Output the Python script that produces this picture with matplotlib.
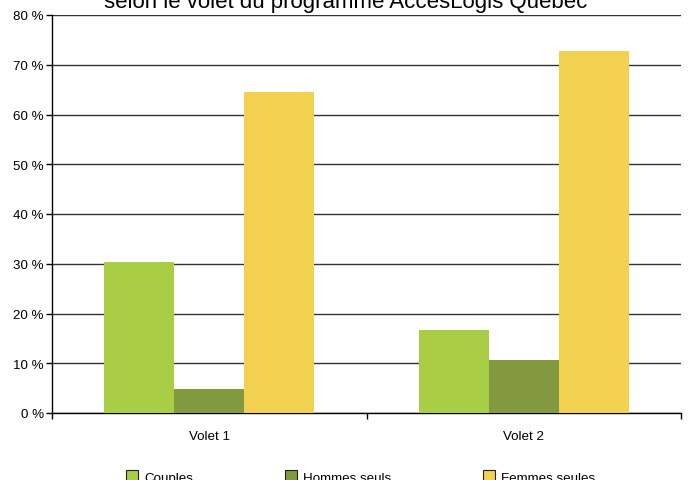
import numpy as np
import matplotlib
matplotlib.use('Agg')
import matplotlib.pyplot as plt
from matplotlib.patches import Patch

# data
volets = ['Volet 1', 'Volet 2']
series = ['Couples', 'Hommes seuls', 'Femmes seules']
couples = [30.4, 16.6]
hommes = [4.8, 10.7]
femmes = [64.6, 72.7]
yticks = [0, 10, 20, 30, 40, 50, 60, 70, 80]
ytick_labels = ['%d %%' % v for v in yticks]
title = 'selon le volet du programme AccèsLogis Québec'

colors = ['#A9CE45', '#82993F', '#F2D050']
fs = 9.6

plt.rcParams['font.family'] = ['Liberation Sans', 'DejaVu Sans']

fig = plt.figure(figsize=(6.91, 4.81), dpi=100)
ax = fig.add_axes([52/691, 67/481, 629/691, 398/481])

x = np.arange(len(volets))
w = 0.2226
for i, (name, vals) in enumerate(zip(series, [couples, hommes, femmes])):
    ax.bar(x + (i - 1) * w, vals, w, color=colors[i], label=name, zorder=3)

ax.set_xlim(-0.5, len(volets) - 0.5)
ax.set_ylim(0, 80)
ax.set_yticks(yticks)
ax.set_yticklabels(ytick_labels, fontsize=fs)
ax.yaxis.grid(True, color='#333333', linewidth=1.0, zorder=0)
ax.set_axisbelow(True)

ax.set_xticks(x)
ax.set_xticklabels(volets, fontsize=fs)
ax.set_xticks(np.arange(len(volets) + 1) - 0.5, minor=True)
ax.tick_params(axis='x', which='major', length=0, pad=12)
ax.tick_params(axis='x', which='minor', length=4, direction='out', width=1)
ax.tick_params(axis='y', length=4, direction='out', width=1, pad=2)

for s in ['top', 'right']:
    ax.spines[s].set_visible(False)
ax.spines['left'].set_linewidth(1)
ax.spines['bottom'].set_linewidth(1)

# title sits partly above the top edge, as in the source image
fig.text(0.5, 1 - 8/481, title, ha='center', va='baseline', fontsize=16)

handles = [Patch(facecolor=c, edgecolor='#222222', linewidth=0.8, label=s)
           for c, s in zip(colors, series)]
leg = fig.legend(handles=handles, ncol=3, loc='center',
                 bbox_to_anchor=(361/691, 3/481), frameon=False,
                 fontsize=fs, handlelength=0.9, handleheight=0.9,
                 handletextpad=0.45, columnspacing=6.9)

fig.savefig('out.png', dpi=100)
